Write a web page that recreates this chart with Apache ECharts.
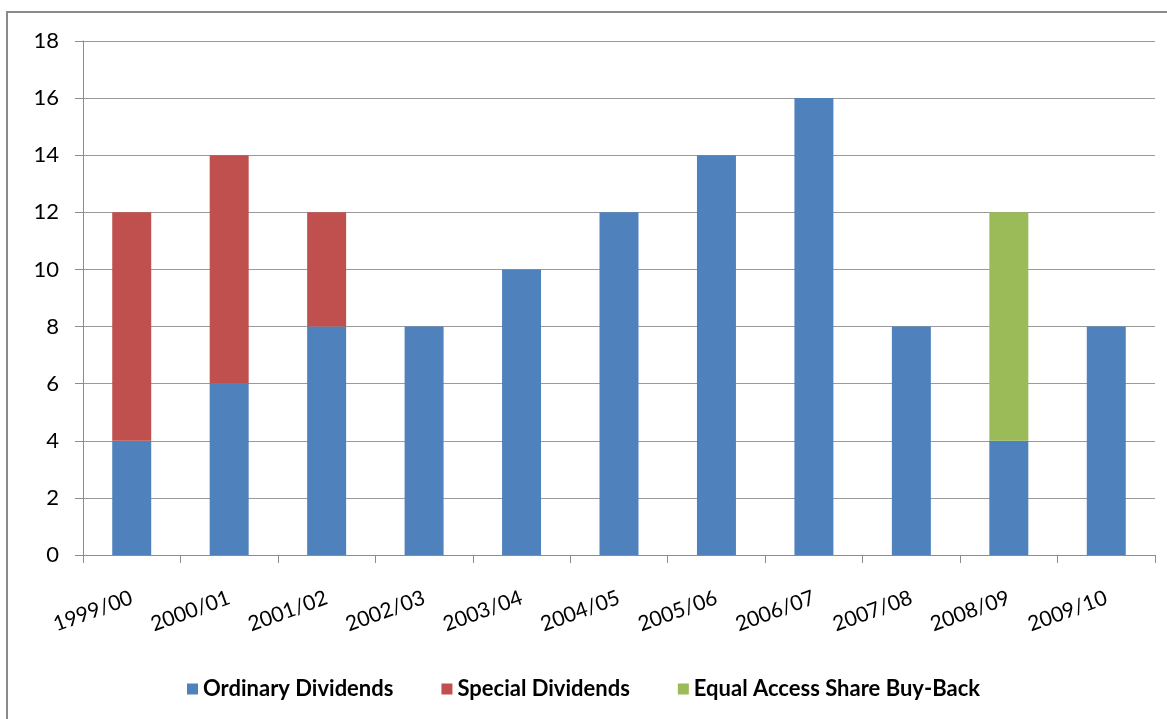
<!DOCTYPE html>
<html>
<head>
<meta charset="utf-8">
<script src="https://cdn.jsdelivr.net/npm/echarts@6/dist/echarts.min.js"></script>
<style>
  html, body { margin: 0; padding: 0; background: #fff; }
  #chart { width: 1167px; height: 719px; }
</style>
</head>
<body>
<div id="chart"></div>
<script>
const years = ['1999/00', '2000/01', '2001/02', '2002/03', '2003/04', '2004/05', '2005/06', '2006/07', '2007/08', '2008/09', '2009/10']
const ordinary = [4, 6, 8, 8, 10, 12, 14, 16, 8, 4, 8]
const special = [8, 8, 4, 0, 0, 0, 0, 0, 0, 0, 0]
const buyBack = [0, 0, 0, 0, 0, 0, 0, 0, 0, 8, 0]
const yTicks = { min: 0, max: 18, interval: 2 }

const font = 'Lato, "Open Sans", sans-serif'
const chart = echarts.init(document.getElementById('chart'))

chart.setOption({
  animation: false,
  textStyle: { fontFamily: font },
  graphic: [{
    type: 'rect',
    shape: { x: 7, y: 12, width: 1200, height: 800 },
    style: { fill: 'none', stroke: '#8a8a8a', lineWidth: 2 },
    silent: true
  }],
  grid: { left: 83, right: 12, top: 41, bottom: 164 },
  legend: {
    bottom: 14,
    left: 'center',
    itemWidth: 11,
    itemHeight: 11,
    itemGap: 48,
    icon: 'rect',
    textStyle: { fontSize: 22, fontWeight: 'bold', color: '#000', fontFamily: font }
  },
  xAxis: {
    type: 'category',
    data: years,
    axisLine: { lineStyle: { color: '#8c8c8c', width: 1 } },
    axisTick: { show: true, length: 8, lineStyle: { color: '#8c8c8c' } },
    axisLabel: { rotate: 20, fontSize: 21, color: '#000', margin: 42, interval: 0 }
  },
  yAxis: {
    type: 'value',
    min: yTicks.min,
    max: yTicks.max,
    interval: yTicks.interval,
    axisLine: { show: true, lineStyle: { color: '#8c8c8c', width: 1 } },
    axisTick: { show: true, length: 8, lineStyle: { color: '#8c8c8c' } },
    splitLine: { lineStyle: { color: '#9a9a9a', width: 1 } },
    axisLabel: { fontSize: 22, color: '#000', margin: 24 }
  },
  series: [
    { name: 'Ordinary Dividends', type: 'bar', stack: 'total', data: ordinary, barWidth: '40%', itemStyle: { color: '#4F81BD' } },
    { name: 'Special Dividends', type: 'bar', stack: 'total', data: special, itemStyle: { color: '#C0504D' } },
    { name: 'Equal Access Share Buy-Back', type: 'bar', stack: 'total', data: buyBack, itemStyle: { color: '#9BBB59' } }
  ]
})
</script>
</body>
</html>
